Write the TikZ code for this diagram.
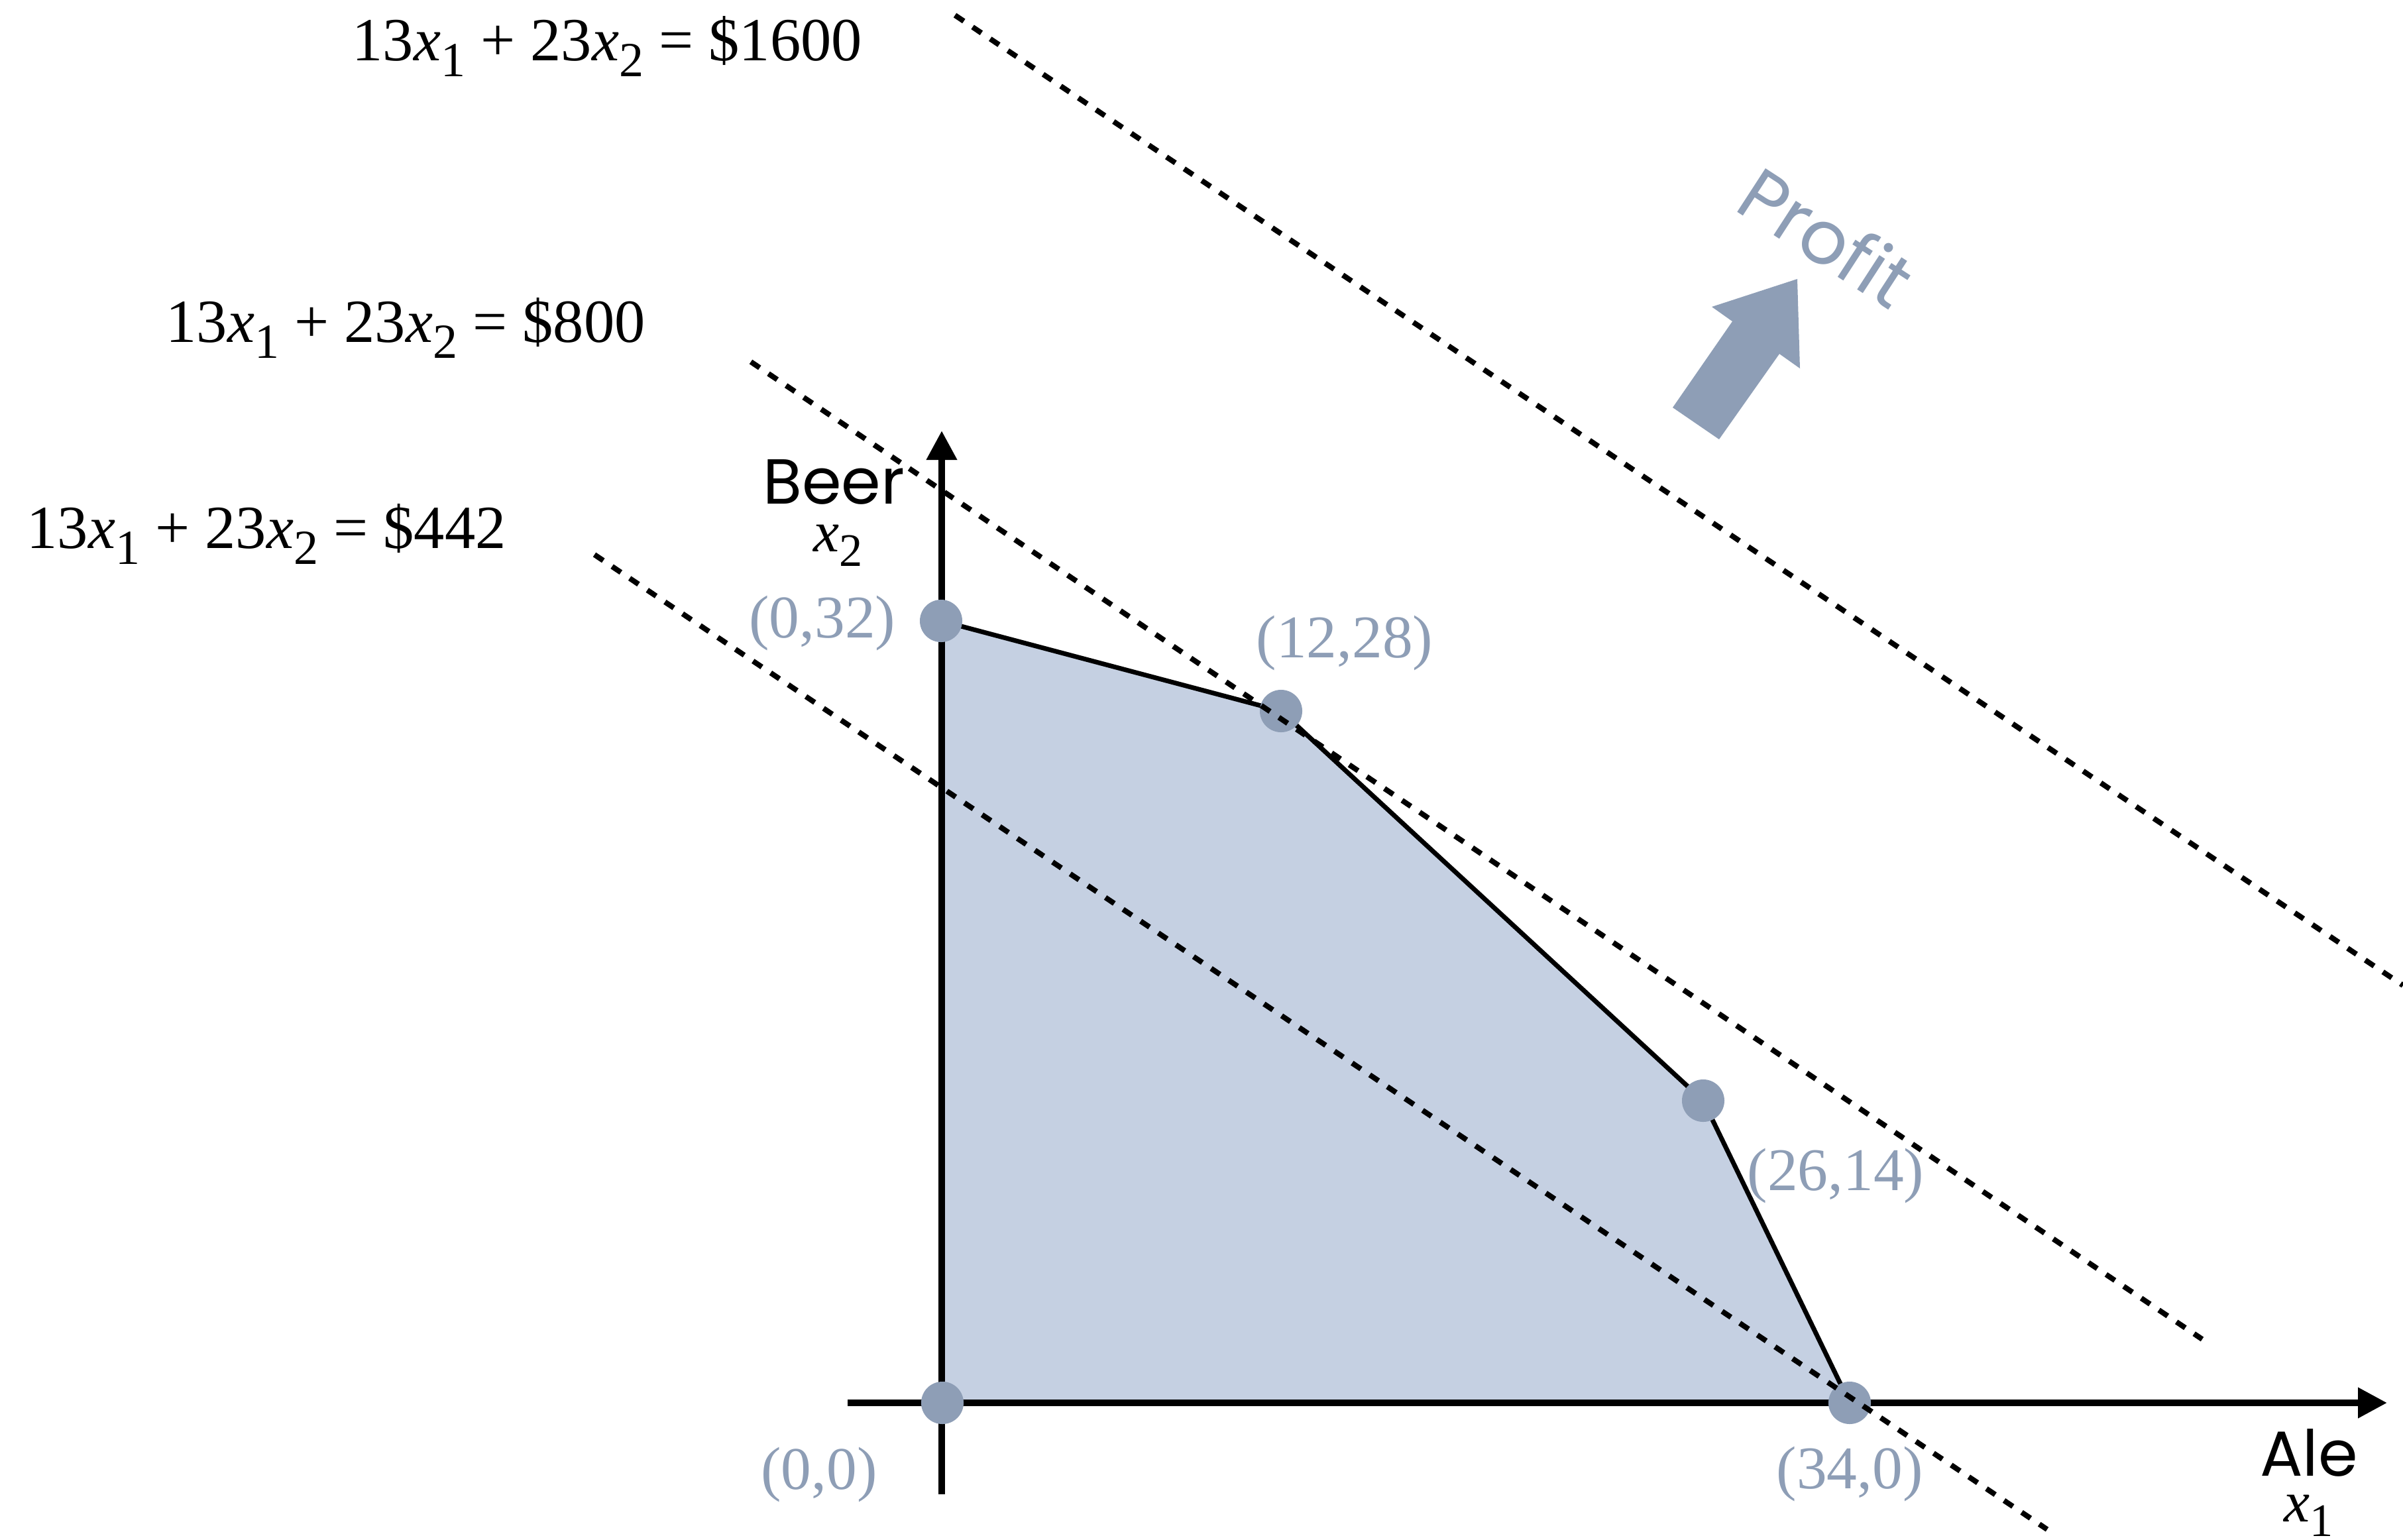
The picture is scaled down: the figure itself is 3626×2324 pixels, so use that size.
\documentclass[tikz,border=0pt]{standalone}
\usepackage{graphicx}
\usepackage{fontspec}
\setmainfont{Liberation Serif}
\newfontfamily\axisfont{Poppins}
\usetikzlibrary{arrows.meta,positioning}
\definecolor{vertexblue}{HTML}{8E9EB6}
\definecolor{regionblue}{HTML}{C5D0E2}
\newcommand{\xvar}[1]{\textit{x}\raisebox{-0.26em}{\scalebox{0.8}{#1}}}

\begin{document}
\begin{tikzpicture}[
  x=0.01cm, y=-0.01cm,
  axis/.style={line width=0.1cm, -{Triangle[length=0.44cm,width=0.44cm]}},
  edge/.style={line width=0.07cm},
  isoline/.style={line width=0.08cm, dash pattern=on 0.16cm off 0.16cm},
  vertex/.style={circle, fill=vertexblue, inner sep=0pt, minimum size=0.64cm},
  vlabel/.style={text=vertexblue, inner sep=0pt, font=\fontsize{26}{29}\selectfont},
  eqn/.style={anchor=base west, inner sep=0pt, font=\fontsize{26.3}{30}\selectfont},
  axname/.style={anchor=base, inner sep=0pt, font=\axisfont\fontsize{27.3}{30}\selectfont},
  axvar/.style={anchor=base, inner sep=0pt, font=\fontsize{25}{28}\selectfont}
]
  \useasboundingbox (0,0) rectangle (3626,2324);

  % Corner points of the feasible region
  \coordinate (o) at (1422,2117);
  \coordinate (a) at (1420,937);
  \coordinate (b) at (1933,1073);
  \coordinate (c) at (2570,1661);
  \coordinate (d) at (2791,2117);

  % Region
  \fill[regionblue] (o) -- (a) -- (b) -- (c) -- (d) -- cycle;

  % Axes
  \coordinate (xleft) at (1279,2117);
  \coordinate (xright) at (3602,2117);
  \coordinate (ybottom) at (1421,2255);
  \coordinate (ytop) at (1421,650);
  \draw[axis] (xleft) -- (xright);
  \draw[axis] (ybottom) -- (ytop);

  % Boundary
  \draw[edge] (a) -- (b) -- (c) -- (d);

  % Vertices
  \node[vertex] (dot-o) at (o) {};
  \node[vertex] (dot-a) at (a) {};
  \node[vertex] (dot-b) at (b) {};
  \node[vertex] (dot-c) at (c) {};
  \node[vertex] (dot-d) at (d) {};

  % Iso-profit lines
  \coordinate (low-s) at (897,837);
  \coordinate (low-e) at (3089,2308);
  \coordinate (mid-s) at (1133,546);
  \coordinate (mid-e) at (3323,2021);
  \coordinate (high-s) at (1441,23);
  \coordinate (high-e) at (3626,1487);
  \draw[isoline] (low-s) -- (low-e);
  \draw[isoline] (mid-s) -- (mid-e);
  \draw[isoline] (high-s) -- (high-e);

  % Equations
  \node[eqn] (eq-high) at (531,91) {13\xvar{1}~+~23\xvar{2}~=~\$1600};
  \node[eqn] (eq-mid) at (250,516) {13\xvar{1}~+~23\xvar{2}~=~\$800};
  \node[eqn] (eq-low) at (40,827) {13\xvar{1}~+~23\xvar{2}~=~\$442};

  % Vertex labels
  \node[vlabel, anchor=base east] (lab-a) at (1352,962) {(0,32)};
  \node[vlabel, anchor=base] (lab-b) at (2029,992) {(12,28)};
  \node[vlabel, anchor=base] (lab-c) at (2770,1796) {(26,14)};
  \node[vlabel, anchor=base] (lab-d) at (2791,2246) {(34,0)};
  \node[vlabel, anchor=base] (lab-o) at (1236,2247) {(0,0)};

  % Axis names
  \node[axname] (beer) at (1258,760) {Beer};
  \node[axvar] (xtwo) at (1265,832) {\xvar{2}};
  \node[axname] (ale) at (3484,2227) {Ale};
  \node[axvar] (xone) at (3484,2296) {\xvar{1}};

  % Profit direction
  \fill[vertexblue] (2524,615) -- (2594,663) -- (2685,534) -- (2716,556)
    -- (2712,421) -- (2583,463) -- (2614,485) -- cycle;
  \node[rotate=-33, text=vertexblue, font=\axisfont\fontsize{32}{36}\selectfont] (profit) at (2757,357) {Profit};
\end{tikzpicture}
\end{document}
